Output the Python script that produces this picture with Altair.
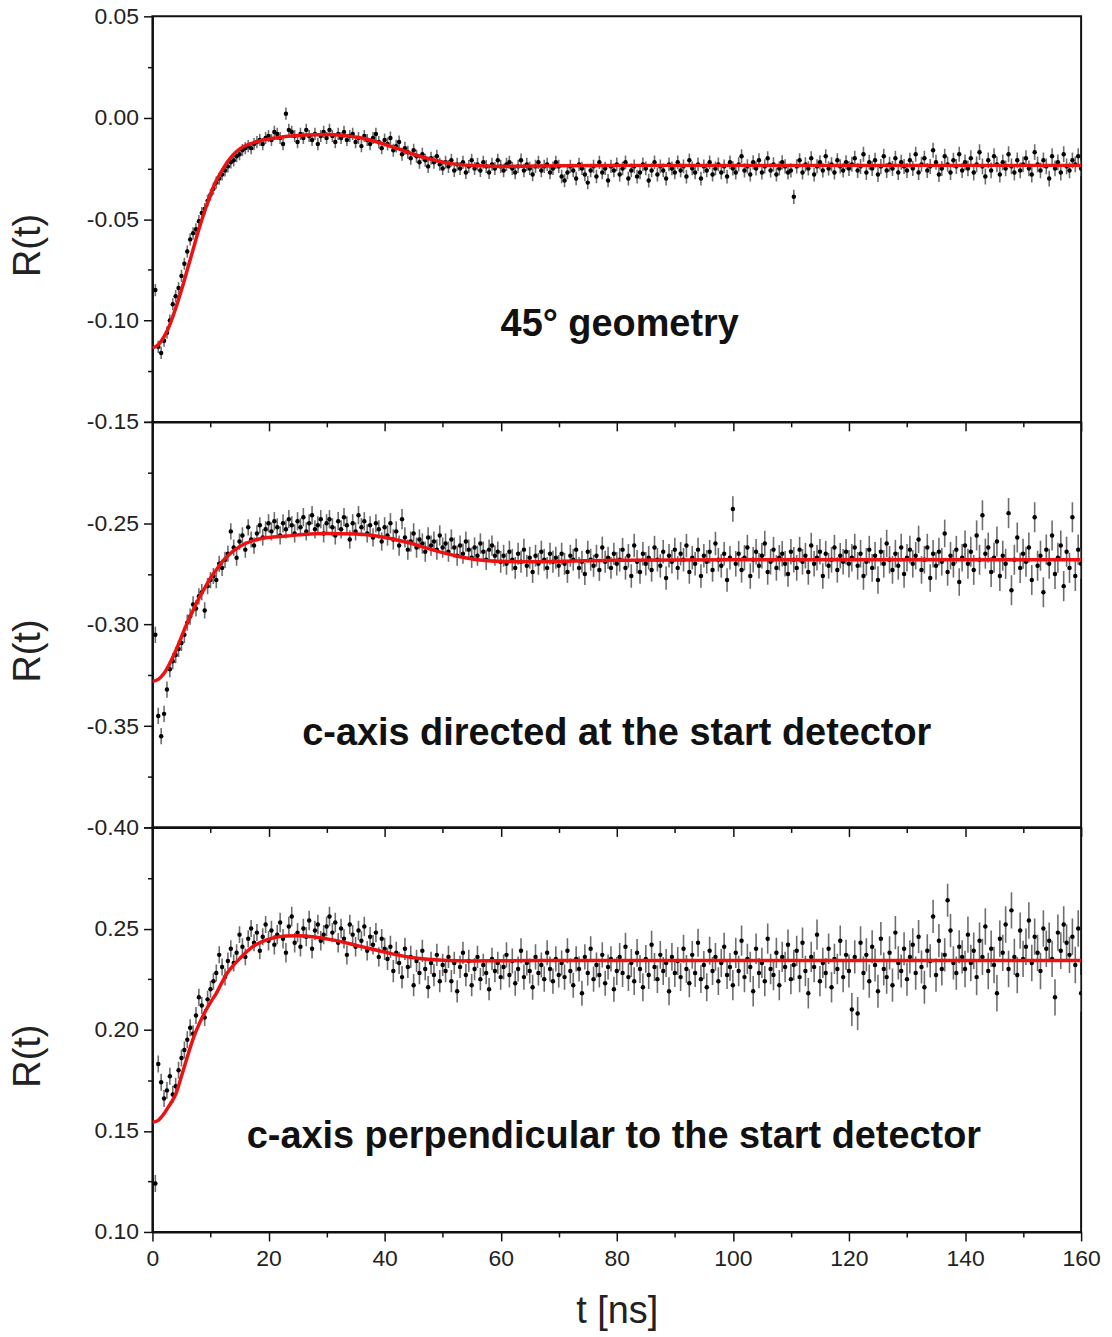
import altair as alt
import pandas as pd

# ---------------- data (R(t) values in units of 1e-3, sampled every 0.5 ns from 0.5 to 160 ns)
T_STEP = 0.5
N_PTS = 320

top_vals = [
    -85, -113, -116, -110, -106, -100, -92, -88, -84, -78, -72, -66, -60, -57, -55, -51, -47, -45, -41, -38,
    -35, -32, -30, -28, -26, -24, -22, -21, -19, -18, -16, -15, -14, -15, -13, -12, -11, -13, -10, -9,
    -11, -7, -8, -10, -13, 2, -6, -7, -9, -12, -8, -10, -6, -9, -11, -8, -13, -9, -7, -10,
    -6, -9, -12, -8, -10, -7, -11, -9, -8, -12, -10, -14, -9, -11, -13, -10, -8, -12, -15, -11,
    -13, -10, -16, -14, -12, -18, -15, -17, -20, -16, -19, -22, -18, -21, -24, -20, -22, -19, -23, -25,
    -22, -24, -21, -26, -23, -25, -22, -27, -24, -21, -25, -23, -26, -22, -24, -27, -23, -25, -21, -24,
    -26, -23, -22, -25, -27, -24, -21, -26, -23, -25, -28, -24, -22, -26, -24, -23, -27, -25, -22, -24,
    -29, -31, -27, -24, -26, -30, -23, -25, -28, -32, -26, -24, -29, -22, -27, -25, -31, -24, -26, -23,
    -28, -25, -22, -30, -26, -24, -29, -27, -23, -25, -31, -26, -22, -28, -24, -26, -30, -23, -25, -27,
    -22, -26, -24, -29, -21, -25, -27, -23, -30, -24, -26, -22, -28, -25, -23, -27, -24, -29, -22, -25,
    -27, -23, -19, -26, -24, -28, -22, -25, -21, -27, -24, -20, -26, -23, -28, -25, -22, -24, -27, -26,
    -39, -24, -21, -27, -23, -25, -20, -28, -24, -22, -26, -19, -25, -23, -27, -21, -24, -26, -22, -25,
    -23, -20, -26, -24, -18, -27, -22, -25, -21, -28, -24, -19, -26, -23, -25, -20, -27, -22, -24, -26,
    -21, -25, -18, -27, -23, -20, -26, -24, -16, -22, -28, -25, -19, -23, -27, -21, -24, -18, -26, -22,
    -25, -20, -27, -23, -17, -24, -29, -21, -26, -19, -23, -28, -22, -25, -18, -24, -27, -21, -26, -23,
    -20, -25, -28, -17, -23, -26, -21, -24, -30, -19, -25, -22, -27, -18, -24, -26, -21, -23, -19, -25,
]

mid_vals = [
    -305, -345, -355, -344, -332, -322, -318, -315, -312, -309, -305, -299, -296, -290, -292, -286, -284, -293, -281, -278,
    -276, -278, -270, -272, -268, -265, -254, -262, -267, -259, -256, -263, -252, -258, -261, -255, -251, -257, -253, -250,
    -254, -249, -252, -256, -250, -253, -248, -251, -255, -249, -252, -247, -254, -250, -246, -253, -251, -248, -255, -250,
    -248, -252, -256, -249, -253, -247, -251, -258, -250, -254, -246, -252, -249, -255, -251, -257, -250, -253, -259, -252,
    -256, -250, -258, -254, -261, -248, -257, -263, -259, -255, -262, -258, -260, -264, -257, -261, -259, -263, -256, -262,
    -260, -264, -258, -262, -266, -261, -265, -259, -263, -267, -262, -266, -260, -264, -268, -263, -261, -266, -264, -269,
    -266, -270, -264, -268, -272, -265, -269, -263, -271, -267, -274, -266, -270, -264, -268, -272, -265, -269, -267, -271,
    -265, -270, -274, -266, -268, -263, -272, -269, -275, -264, -268, -271, -266, -273, -262, -269, -267, -272, -265, -270,
    -268, -263, -272, -266, -276, -261, -269, -274, -265, -270, -267, -273, -262, -268, -271, -264, -277, -266, -269, -263,
    -272, -265, -268, -261, -274, -267, -270, -263, -276, -266, -269, -264, -273, -260, -268, -271, -265, -278, -267, -243,
    -270, -265, -273, -267, -262, -276, -268, -264, -271, -266, -260, -274, -269, -263, -272, -267, -265, -270, -275, -264,
    -268, -272, -263, -269, -266, -274, -261, -270, -267, -264, -276, -265, -271, -268, -262, -273, -266, -269, -264, -270,
    -267, -262, -271, -265, -276, -269, -263, -272, -266, -278, -264, -270, -260, -268, -273, -265, -271, -262, -275, -267,
    -263, -270, -266, -258, -273, -268, -262, -277, -265, -271, -264, -269, -255, -274, -266, -270, -263, -279, -267, -261,
    -270, -264, -273, -256, -268, -246, -265, -262, -274, -267, -259, -276, -266, -270, -245, -283, -268, -257, -272, -265,
    -269, -262, -278, -247, -271, -266, -284, -263, -270, -256, -275, -267, -261, -281, -264, -272, -247, -276, -263, -270,
]

bot_vals = [
    124, 183, 174, 166, 170, 177, 168, 172, 180, 186, 190, 195, 201, 198, 207, 216, 212, 206, 215, 220,
    224, 228, 237, 231, 226, 234, 240, 233, 238, 247, 241, 236, 245, 250, 243, 248, 239, 246, 252, 244,
    249, 242, 247, 253, 245, 238, 251, 256, 243, 248, 241, 250, 246, 254, 240, 249, 252, 244, 247, 251,
    256, 248, 253, 243, 250, 245, 237, 252, 247, 241, 249, 244, 251, 239, 246, 242, 248, 236, 245, 240,
    235, 241, 229, 238, 233, 226, 240, 231, 236, 222, 234, 228, 239, 230, 221, 233, 227, 237, 224, 232,
    229, 236, 224, 233, 219, 231, 238, 227, 234, 222, 230, 236, 225, 232, 228, 220, 235, 229, 233, 226,
    231, 237, 227, 234, 223, 230, 239, 226, 233, 229, 221, 236, 228, 232, 225, 238, 230, 224, 235, 227,
    233, 226, 239, 229, 222, 235, 230, 218, 236, 228, 240, 225, 232, 227, 237, 223, 231, 235, 220, 229,
    236, 228, 241, 226, 233, 224, 238, 230, 221, 235, 227, 242, 231, 225, 237, 229, 233, 219, 236, 228,
    234, 226, 240, 230, 223, 237, 228, 243, 225, 232, 221, 239, 229, 236, 224, 233, 241, 227, 231, 222,
    238, 229, 244, 226, 235, 231, 219, 240, 228, 233, 224, 245, 230, 227, 238, 222, 236, 231, 242, 225,
    232, 239, 226, 243, 229, 218, 236, 231, 247, 224, 233, 228, 240, 221, 235, 230, 244, 226, 237, 229,
    210, 236, 208, 243, 228, 237, 224, 241, 232, 219, 245, 230, 226, 238, 222, 248, 233, 229, 240, 225,
    236, 242, 228, 246, 231, 221, 239, 234, 256, 227, 244, 230, 237, 264, 249, 233, 228, 241, 236, 230,
    247, 233, 239, 226, 244, 236, 251, 229, 240, 232, 218, 245, 238, 252, 230, 259, 236, 227, 249, 235,
    241, 254, 233, 246, 238, 229, 250, 240, 244, 235, 216, 248, 239, 252, 243, 237, 246, 232, 250, 218,
]

# error half-widths (units 1e-3) for each 20 ns block
top_err = [3.0, 3.0, 3.2, 3.3, 3.4, 3.5, 3.7, 3.9]
mid_err = [4.0, 4.5, 5.0, 5.4, 5.8, 6.3, 6.8, 7.4]
bot_err = [4.2, 4.8, 5.5, 6.2, 6.9, 7.5, 8.2, 9.0]

# fitted curves
fit_t_top = [0, 1, 2, 3, 4, 5, 6, 7, 8, 9, 10, 11, 12, 13, 14, 15, 16, 18, 20, 22, 25, 28, 30, 33, 36, 39,
             42, 45, 48, 51, 55, 60, 70, 80, 100, 120, 140, 160]
fit_top = [-0.1135, -0.112, -0.108, -0.102, -0.094, -0.085, -0.075, -0.065, -0.055, -0.046, -0.038, -0.031,
           -0.026, -0.0215, -0.018, -0.0155, -0.0138, -0.0118, -0.0105, -0.0096, -0.0088, -0.0084, -0.0083,
           -0.0088, -0.0100, -0.0122, -0.0150, -0.0180, -0.0205, -0.0224, -0.0236, -0.0240, -0.0237, -0.0235,
           -0.0235, -0.0235, -0.0235, -0.0235]

fit_t_mid = [0, 1, 2, 3, 4, 5, 6, 7, 8, 9, 10, 11, 12, 13, 14, 16, 18, 20, 23, 26, 30, 35, 38, 41, 44, 47,
             50, 53, 56, 60, 65, 70, 80, 100, 160]
fit_mid = [-0.328, -0.327, -0.324, -0.319, -0.313, -0.306, -0.299, -0.293, -0.287, -0.282, -0.277, -0.273,
           -0.269, -0.266, -0.2635, -0.2600, -0.2580, -0.2570, -0.2563, -0.2555, -0.2550, -0.2553, -0.2560,
           -0.2575, -0.2595, -0.2620, -0.2645, -0.2665, -0.2680, -0.2688, -0.2690, -0.2688, -0.2682, -0.2680,
           -0.2680]

fit_t_bot = [0, 1, 2, 3, 4, 5, 6, 7, 8, 9, 10, 11, 12, 13, 14, 15, 17, 19, 21, 23, 25, 28, 31, 34, 37, 40,
             43, 46, 50, 55, 60, 70, 80, 160]
fit_bot = [0.1542, 0.1552, 0.1585, 0.163, 0.1680, 0.177, 0.1865, 0.1955, 0.2025, 0.2085, 0.2135, 0.218,
           0.2235, 0.2285, 0.232, 0.235, 0.2405, 0.2437, 0.2455, 0.2463, 0.2465, 0.2458, 0.2444, 0.2425,
           0.2404, 0.2384, 0.2365, 0.2352, 0.2343, 0.2340, 0.2341, 0.2342, 0.2342, 0.2342]

x_ticks = [0, 10, 20, 30, 40, 50, 60, 70, 80, 90, 100, 110, 120, 130, 140, 150, 160]
y_ticks_top = [0.05, 0.025, 0.0, -0.025, -0.05, -0.075, -0.1, -0.125, -0.15]
y_ticks_mid = [-0.2, -0.225, -0.25, -0.275, -0.3, -0.325, -0.35, -0.375, -0.4]
y_ticks_bot = [0.3, 0.275, 0.25, 0.225, 0.2, 0.175, 0.15, 0.125, 0.1]

labels = ["45° geometry", "c-axis directed at the start detector",
          "c-axis perpendicular to the start detector"]
label_pos = [(80.5, -0.1022), (80.0, -0.3537), (79.5, 0.1468)]

assert len(top_vals) == N_PTS and len(mid_vals) == N_PTS and len(bot_vals) == N_PTS

t_grid = [T_STEP * (i + 1) for i in range(N_PTS)]

FONT = "Liberation Sans"
W = 932
TXT = "#222222"


def make_panel(vals, errs, ft, fv, domain, yticks, label_max, text, tpos, bottom, height):
    blocks = [min(int(t // 20), 7) for t in t_grid]
    df = pd.DataFrame({
        "t": t_grid,
        "r": [v / 1000 for v in vals],
        "lo": [(v - errs[b]) / 1000 for v, b in zip(vals, blocks)],
        "hi": [(v + errs[b]) / 1000 for v, b in zip(vals, blocks)],
    })
    fdf = pd.DataFrame({"t": ft, "r": fv})
    tdf = pd.DataFrame({"t": [tpos[0]], "r": [tpos[1]], "label": [text]})

    major_y = "abs(datum.value*20 - round(datum.value*20)) < 0.01"
    ylab = (f"({major_y} && datum.value < {label_max}) ? "
            "((datum.value < -0.0001 ? '-' : '') + format(abs(datum.value), '.2f')) : ''")
    yaxis = alt.Axis(
        values=yticks, labelExpr=ylab, grid=False, title="R(t)",
        tickSize={"condition": {"test": major_y, "value": 9}, "value": 5},
        tickWidth=1.5, tickColor="#111", domainColor="#111", domainWidth=2,
        labelFont=FONT, labelFontSize=23, labelColor=TXT, labelPadding=5,
        titleFont=FONT, titleFontSize=38, titleFontWeight="normal", titleColor=TXT,
        titleX=-124, titleY=height / 2 + 26, titleBaseline="middle",
    )
    major_x = "datum.value % 20 == 0"
    if bottom:
        xaxis = alt.Axis(
            values=x_ticks, grid=False, title="t [ns]",
            labelExpr=f"{major_x} ? datum.label : ''",
            tickSize={"condition": {"test": major_x, "value": 9}, "value": 5},
            tickWidth=1.5, tickColor="#111", domainColor="#111", domainWidth=2,
            labelFont=FONT, labelFontSize=23, labelColor=TXT, labelPadding=7, labelFlush=False,
            titleFont=FONT, titleFontSize=38, titleFontWeight="normal", titleColor=TXT, titlePadding=22,
        )
    else:
        xaxis = alt.Axis(
            values=x_ticks, grid=False, title=None, labels=False,
            tickSize={"condition": {"test": major_x, "value": 9}, "value": 5},
            tickWidth=1.5, tickColor="#111", domainColor="#111", domainWidth=2,
        )
    xs = alt.Scale(domain=[0, 160], nice=False, zero=False)
    ys = alt.Scale(domain=domain, nice=False, zero=False)

    err = alt.Chart(df).mark_rule(color="#6e6e6e", strokeWidth=1.6, clip=True).encode(
        x=alt.X("t:Q", scale=xs, axis=xaxis),
        y=alt.Y("lo:Q", scale=ys, axis=yaxis),
        y2="hi:Q",
    )
    pts = alt.Chart(df).mark_circle(size=20, color="black", opacity=1, clip=True).encode(
        x=alt.X("t:Q", scale=xs), y=alt.Y("r:Q", scale=ys))
    fit = alt.Chart(fdf).mark_line(color="#ee1111", strokeWidth=3.5, interpolate="monotone", clip=True).encode(
        x=alt.X("t:Q", scale=xs), y=alt.Y("r:Q", scale=ys))
    txt = alt.Chart(tdf).mark_text(font=FONT, fontSize=38, fontWeight="bold", color="#111",
                                   align="center", baseline="middle").encode(
        x=alt.X("t:Q", scale=xs), y=alt.Y("r:Q", scale=ys), text="label:N")
    return alt.layer(err, pts, fit, txt).properties(width=W, height=height)


p1 = make_panel(top_vals, top_err, fit_t_top, fit_top, [-0.15, 0.05], y_ticks_top, 0.06,
                labels[0], label_pos[0], False, 407)
p2 = make_panel(mid_vals, mid_err, fit_t_mid, fit_mid, [-0.40, -0.20], y_ticks_mid, -0.21,
                labels[1], label_pos[1], False, 407)
p3 = make_panel(bot_vals, bot_err, fit_t_bot, fit_bot, [0.10, 0.30], y_ticks_bot, 0.29,
                labels[2], label_pos[2], True, 406)

chart = alt.vconcat(p1, p2, p3, spacing=0, bounds="flush").configure_view(
    stroke="#111", strokeWidth=2
).properties(padding={"left": 9, "top": 2, "right": 10, "bottom": 0}, background="white")

chart.save("out.html", embed_options={"renderer": "svg", "actions": False})
